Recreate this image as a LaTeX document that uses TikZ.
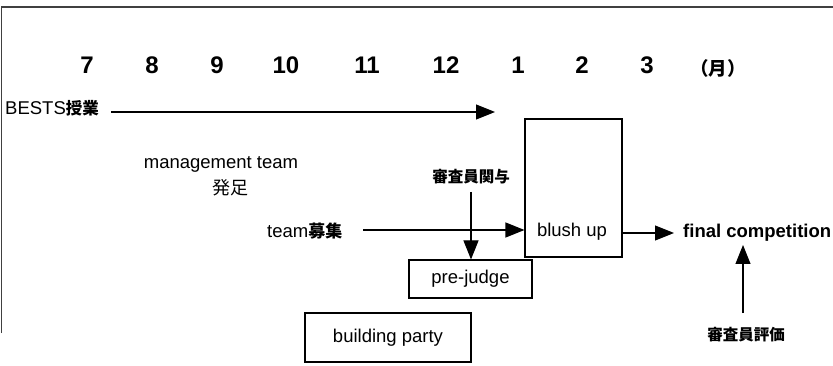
\documentclass[tikz,border=0pt]{standalone}
\usepackage{fontspec}
\setmainfont{Liberation Sans}
\newfontfamily\jp{Noto Sans CJK JP}
\usetikzlibrary{arrows.meta}
\begin{document}
\begin{tikzpicture}[x=1pt,y=-1pt,
  every node/.style={inner sep=0pt, font=\fontsize{18.5}{22}\selectfont},
  mon/.style={anchor=base, font=\fontsize{24}{28}\selectfont\bfseries},
  jpb/.style={font=\jp\bfseries\fontsize{15.5}{18}\selectfont},
  txt/.style={font=\fontsize{18.5}{22}\selectfont},
  box/.style={draw, line width=1.1pt, font=\fontsize{18.5}{22}\selectfont},
  arr/.style={line width=1.1pt, -{Triangle[length=19pt,width=15pt]}},
  frame/.style={line width=1.2pt, black!75},
]
\useasboundingbox (0,0) rectangle (833,366);
% frame
\draw[frame] (1.5,333) -- (1.5,7) -- (833,7);
% months
\node[mon] (m7)  at (87,74)  {7};
\node[mon] (m8)  at (152,74) {8};
\node[mon] (m9)  at (217,74) {9};
\node[mon] (m10) at (286,74) {10};
\node[mon] (m11) at (367,74) {11};
\node[mon] (m12) at (446,74) {12};
\node[mon] (m1)  at (518,74) {1};
\node[mon] (m2)  at (582,74) {2};
\node[mon] (m3)  at (647,74) {3};
\node[anchor=base, font=\jp\bfseries\fontsize{18.5}{22}\selectfont] (mu) at (718,75.5) {（月）};
% texts
\node[txt, anchor=base west] (bests) at (5,115) {BESTS{\jp\bfseries\fontsize{16.5}{18}\selectfont 授業}};
\node[txt, anchor=base] (mgmt) at (221,169) {management team};
\node[anchor=base, font=\jp\fontsize{18}{20}\selectfont] (hassoku) at (230,195) {発足};
\node[txt, anchor=base west] (team) at (267,238) {team{\jp\bfseries\fontsize{17}{18}\selectfont 募集}};
\node[jpb, anchor=base] (judge1) at (471,183) {審査員関与};
\node[jpb, anchor=base] (judge2) at (746,340) {審査員評価};
\node[anchor=base west, font=\fontsize{18.5}{22}\selectfont\bfseries] (final) at (683,238) {final competition};
% boxes
\node[box, minimum width=97pt, minimum height=138pt] (blush) at (573.5,188) {};
\node[txt, anchor=base] (blushtxt) at (572,237) {blush up};
\node[box, minimum width=123pt, minimum height=38pt] (prejudge) at (470.5,279) {pre-judge};
\node[box, minimum width=166pt, minimum height=49pt] (party) at (388,337.5) {building party};
% connector coordinates
\coordinate (bestsend) at (495,112);
\coordinate (teamstart) at (363,230);
\coordinate (finalin) at (674,233);
\coordinate (j1start) at (471,192);
\coordinate (j2start) at (743,313);
\coordinate (j2end) at (743,245);
% connectors
\draw[arr, shorten <=12pt] (bests.east |- bestsend) -- (bestsend);
\draw[arr] (teamstart) -- (teamstart -| blush.west);
\draw[arr] (blush.east |- finalin) -- (finalin);
\draw[arr] (j1start) -- (j1start |- prejudge.north);
\draw[arr] (j2start) -- (j2end);
\end{tikzpicture}
\end{document}
